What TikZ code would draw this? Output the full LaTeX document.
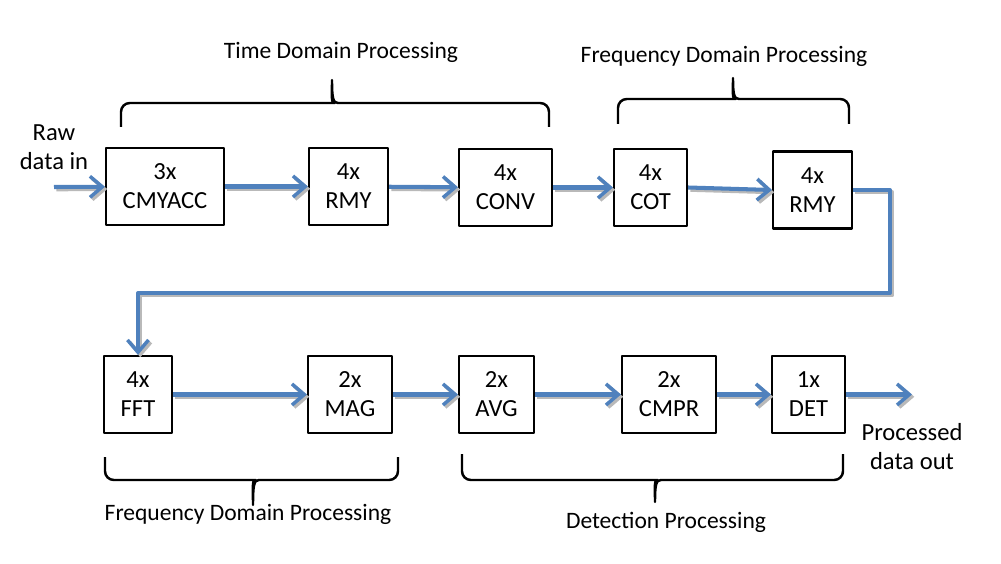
\documentclass[tikz,border=0pt]{standalone}
\usepackage{fontspec}
\setmainfont{Carlito}
\usetikzlibrary{arrows.meta}
\definecolor{flowblue}{HTML}{4F81BD}

\begin{document}
\begin{tikzpicture}[x=0.02cm, y=-0.02cm, line join=round,
  blk/.style={draw, line width=1.2pt, inner sep=0pt, align=center,
    minimum height=1.54cm, font=\fontsize{14}{16.5}\selectfont},
  flow/.style={line width=2.3pt,
    -{Straight Barb[length=7pt, width=12pt, line width=2pt]}},
  brc/.style={draw, line width=1.4pt, rounded corners=5pt},
  lbl/.style={font=\fontsize{13.4}{16}\selectfont},
  io/.style={align=center, font=\fontsize{14}{16.5}\selectfont}]
  \useasboundingbox (0,0) rectangle (1001,564);

  % 第一行模块
  \node[blk, minimum width=2.36cm] (cmyacc) at (165,186.5) {3x\\CMYACC};
  \node[blk, minimum width=1.58cm] (rmyA) at (348.5,186.5) {4x\\RMY};
  \node[blk, minimum width=1.86cm] (conv) at (505.5,187.5) {4x\\CONV};
  \node[blk, minimum width=1.46cm] (cot) at (650.5,187.5) {4x\\COT};
  \node[blk, minimum width=1.58cm] (rmyB) at (812.5,190) {4x\\RMY};

  % 第二行模块
  \node[blk, minimum width=1.36cm] (fft) at (138,394.5) {4x\\FFT};
  \node[blk, minimum width=1.68cm] (mag) at (350,394.5) {2x\\MAG};
  \node[blk, minimum width=1.50cm] (avg) at (496.5,394.5) {2x\\AVG};
  \node[blk, minimum width=1.88cm] (cmpr) at (669,394.5) {2x\\CMPR};
  \node[blk, minimum width=1.46cm] (det) at (808.5,394.5) {1x\\DET};

  % 输入与输出
  \node[io] (rawtxt) at (54,147) {Raw\\data in};
  \node[io] (outtxt) at (912,447) {Processed\\data out};
  \coordinate (rawin) at (54,187);
  \coordinate (dataout) at (912,394.5);
  \coordinate (turn) at (890,293);

  % 数据流箭头（先画灰色阴影，再画蓝色）
  \foreach \clr/\off in {gray!55/1.3pt, flowblue/0pt} {
    \begin{scope}[transform canvas={xshift=\off, yshift=-\off}, flow, draw=\clr]
      \draw (rawin) -- (cmyacc);
      \draw (cmyacc) -- (rmyA);
      \draw (rmyA) -- (conv);
      \draw (conv) -- (cot);
      \draw (cot.east) -- (rmyB.west);
      \draw (rmyB.east) -| (turn) -| (fft.north);
      \draw (fft) -- (mag);
      \draw (mag) -- (avg);
      \draw (avg) -- (cmpr);
      \draw (cmpr) -- (det);
      \draw (det) -- (dataout);
    \end{scope}
  }

  % 括号
  \draw[brc] (121,127) |- (326,103) [sharp corners] .. controls (331,103) and (332,98) .. (332,80)
    .. controls (332,98) and (333,103) .. (338,103) [rounded corners=5pt] -| (549,127);
  \draw[brc] (618,124) |- (727,99) [sharp corners] .. controls (732,99) and (733,94) .. (733,78)
    .. controls (733,94) and (734,99) .. (739,99) [rounded corners=5pt] -| (849,124);
  \draw[brc] (105,457) |- (247,480) [sharp corners] .. controls (252,480) and (253,485) .. (253,505)
    .. controls (253,485) and (254,480) .. (259,480) [rounded corners=5pt] -| (398,457);
  \draw[brc] (462,454) |- (649,480) [sharp corners] .. controls (654,480) and (655,485) .. (655,502)
    .. controls (655,485) and (656,480) .. (661,480) [rounded corners=5pt] -| (843,454);

  % 括号标注
  \node[lbl] (timelbl) at (341,52) {Time Domain Processing};
  \node[lbl] (freqtop) at (724,56) {Frequency Domain Processing};
  \node[lbl] (freqbot) at (248,514) {Frequency Domain Processing};
  \node[lbl] (detlbl) at (666,522) {Detection Processing};
\end{tikzpicture}
\end{document}
